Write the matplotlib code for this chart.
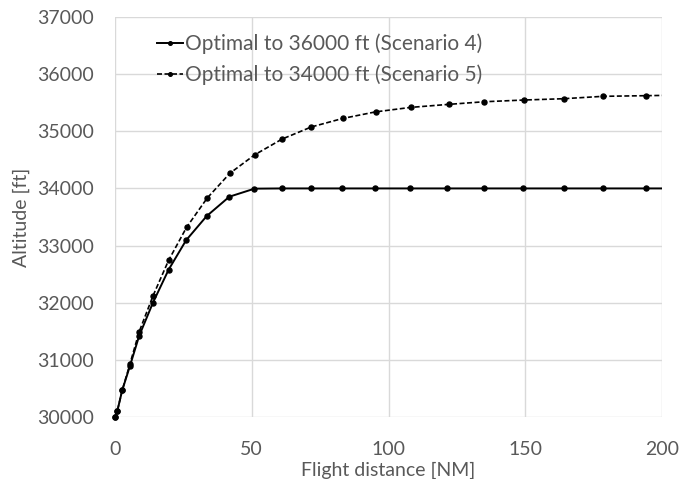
import matplotlib
matplotlib.use("Agg")
import matplotlib.pyplot as plt
from matplotlib.transforms import Bbox, TransformedBbox

# (NM, ft)
dist_s4 = [0, 0.85, 2.65, 5.45, 8.85, 13.9, 19.6, 26.0, 33.5, 41.8, 51.0,
           61.1, 71.6, 83.0, 95.2, 107.8, 121.5, 135.0, 149.3, 164.0, 178.6, 194.0, 210.0]
alt_s4 = [30000, 30106, 30469, 30891, 31423, 32003, 32578, 33093, 33515, 33855, 33996,
          34000, 34000, 34000, 34000, 34000, 34000, 34000, 34000, 34000, 34000, 34000, 34000]

dist_s5 = [0, 0.85, 2.65, 5.45, 8.85, 13.9, 19.6, 26.2, 33.7, 42.0, 51.1,
           61.1, 71.8, 83.2, 95.3, 108.1, 122.0, 135.0, 149.5, 164.0, 178.5, 194.0, 210.0]
alt_s5 = [30000, 30106, 30469, 30926, 31494, 32121, 32742, 33322, 33831, 34265, 34589,
          34864, 35076, 35224, 35340, 35418, 35471, 35517, 35547, 35570, 35612, 35623, 35635]

label_s4 = "Optimal to 36000 ft (Scenario 4)"
label_s5 = "Optimal to 34000 ft (Scenario 5)"

plt.rcParams["font.family"] = ["Lato", "DejaVu Sans"]
grey = "#595959"

fig = plt.figure(figsize=(6.94, 4.79), dpi=100)
ax = fig.add_axes([115 / 694, 1 - 417 / 479, 547 / 694, 400 / 479])

l4, = ax.plot(dist_s4, alt_s4, color="black", lw=1.4, marker="o", ms=3.6, label=label_s4)
l5, = ax.plot(dist_s5, alt_s5, color="black", lw=1.2, ls=(0, (3, 1.5)), marker="o", ms=3.6,
              label=label_s5)

# clip only on the right (data runs past 200), keep the first marker whole
clip = TransformedBbox(Bbox([[-0.02, -0.02], [1, 1]]), ax.transAxes)
for ln in (l4, l5):
    ln.set_clip_box(clip)

ax.set_xlim(0, 200)
ax.set_ylim(30000, 37000)
ax.set_xticks([0, 50, 100, 150, 200])
ax.set_yticks(range(30000, 37001, 1000))
ax.grid(True, color="#d9d9d9", lw=1)
ax.set_axisbelow(True)
for s in ax.spines.values():
    s.set_visible(False)
ax.tick_params(length=0, labelsize=14, labelcolor=grey)
ax.tick_params(axis="x", pad=17)
ax.tick_params(axis="y", pad=15)

ax.set_xlabel("Flight distance [NM]", fontsize=14, color=grey, labelpad=3)
ax.set_ylabel("Altitude [ft]", fontsize=14, color=grey, labelpad=5)

leg = ax.legend(loc="upper left", bbox_to_anchor=(0.043, 1.005), frameon=False, fontsize=15,
                handlelength=1.25, handletextpad=0.1, labelspacing=0.5, labelcolor=grey)
for h in leg.legend_handles:
    h.set_markersize(2.6)

fig.savefig("out.png", dpi=100)
